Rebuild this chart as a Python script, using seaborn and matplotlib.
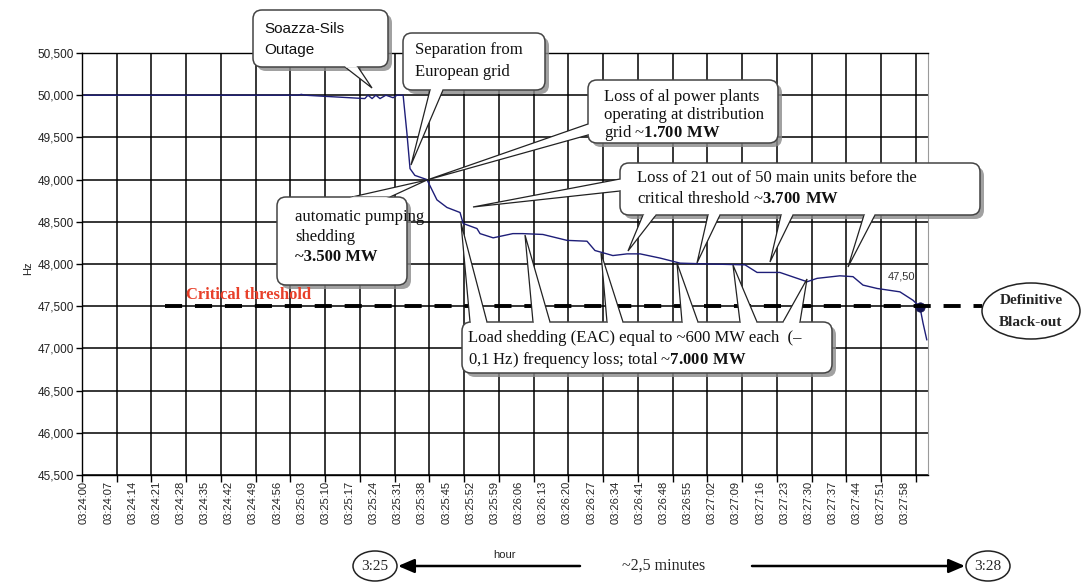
import numpy as np
import pandas as pd
import matplotlib
matplotlib.use("Agg")
import matplotlib.pyplot as plt
import seaborn as sns
from matplotlib.patches import FancyBboxPatch, Polygon, Ellipse

# ---------------- data ----------------
time_s = [0, 62, 63, 64, 81.4, 82.3, 83.5, 84.6, 85.8, 87.5, 89.6, 90.7,
          92.5, 93.6, 94.5, 95.9, 99.4, 102.3, 105.2, 109.0, 109.9, 113.9,
          114.8, 118.6, 124.3, 127.2, 133.0, 140.0, 145.8, 148.1, 153.3, 157.4,
          161.2, 167.0, 172.8, 181.4, 191.6, 195.1, 201.7, 209.6, 212.5, 219.1,
          222.9, 225.8, 229.9, 236.5, 240.3, 242.3, 243.2, 244.3]
freq_hz = [50.00, 50.00, 50.01, 50.00, 49.96, 50.00, 49.96, 50.00, 49.96, 50.00, 49.97, 50.00,
           50.00, 49.55, 49.13, 49.05, 49.00, 48.76, 48.67, 48.61, 48.48, 48.42,
           48.36, 48.31, 48.36, 48.36, 48.35, 48.28, 48.27, 48.16, 48.10, 48.12,
           48.12, 48.07, 48.01, 48.00, 47.99, 47.90, 47.90, 47.79, 47.83, 47.86,
           47.85, 47.75, 47.71, 47.67, 47.57, 47.49, 47.30, 47.10]

tick_seconds = list(range(0, 239, 7))
tick_labels = ["03:24:00", "03:24:07", "03:24:14", "03:24:21", "03:24:28", "03:24:35",
               "03:24:42", "03:24:49", "03:24:56", "03:25:03", "03:25:10", "03:25:17",
               "03:25:24", "03:25:31", "03:25:38", "03:25:45", "03:25:52", "03:25:59",
               "03:26:06", "03:26:13", "03:26:20", "03:26:27", "03:26:34", "03:26:41",
               "03:26:48", "03:26:55", "03:27:02", "03:27:09", "03:27:16", "03:27:23",
               "03:27:30", "03:27:37", "03:27:44", "03:27:51", "03:27:58"]
y_ticks = [45.5, 46.0, 46.5, 47.0, 47.5, 48.0, 48.5, 49.0, 49.5, 50.0, 50.5]
threshold_hz = 47.5
blackout_t = 242.3
blackout_hz = 47.49
blackout_label = "47,50"

# ---------------- style ----------------
sns.set_theme(style="ticks")
plt.rcParams["font.family"] = ["Liberation Sans", "DejaVu Sans"]
plt.rcParams["mathtext.fontset"] = "custom"
plt.rcParams["mathtext.rm"] = "Liberation Serif"
plt.rcParams["mathtext.bf"] = "Liberation Serif:bold"

W, H = 1082, 582
fig = plt.figure(figsize=(W / 100, H / 100), dpi=100)
fig.patch.set_facecolor("white")
ax = fig.add_axes([82 / W, 1 - 475 / H, 846 / W, 422 / H])

df = pd.DataFrame({"t": time_s, "f": freq_hz})
sns.lineplot(data=df, x="t", y="f", ax=ax, color="#1e1e78", lw=1.0, zorder=3)
sns.scatterplot(x=[blackout_t], y=[blackout_hz], ax=ax, color="#141450", s=45,
                edgecolor="#141450", zorder=4)

ax.set_xlim(-0.58, 244.64)
ax.set_ylim(45.5, 50.5)
ax.set_xticks(tick_seconds)
ax.set_xticklabels(tick_labels, rotation=90)
ax.set_xticks(np.linspace(-0.58, 241.1, 25), minor=True)
ax.set_yticks(y_ticks)
ax.set_yticklabels([f"{v:.3f}".replace(".", ",") for v in y_ticks])
ax.grid(which="major", axis="y", color="black", lw=1.1)
ax.grid(which="minor", axis="x", color="black", lw=1.1)
ax.grid(which="major", axis="x", visible=False)
ax.set_axisbelow(True)
ax.tick_params(axis="x", which="major", length=0, labelsize=8, pad=4,
               labelcolor="#222222", bottom=True)
ax.tick_params(axis="x", which="minor", length=5, width=1, color="black",
               direction="out", bottom=True)
ax.tick_params(axis="y", length=4, width=1, color="black", direction="out",
               labelsize=8.5, pad=2, labelcolor="#222222", left=True)
for s in ["left", "bottom", "top"]:
    ax.spines[s].set_color("black")
    ax.spines[s].set_linewidth(1.0)
ax.spines["top"].set_visible(True)
ax.spines["right"].set_visible(True)
ax.spines["right"].set_color("#9a9a9a")
ax.spines["right"].set_linewidth(0.8)

ax.set_ylabel("Hz", fontsize=8, color="#222222")
ax.yaxis.set_label_coords((33 - 82) / 846, (475 - 268) / 422)
ax.set_xlabel("hour", fontsize=8, color="#222222")
ax.xaxis.set_label_coords((505 - 82) / 846, -(550 - 475) / 422)

# threshold dashed line (extends past the plot to the ellipse)
ax.plot([(165 - 82) / 846, (982 - 82) / 846], [threshold_hz, threshold_hz],
        transform=ax.get_yaxis_transform(), clip_on=False, color="black",
        lw=2.8, dashes=(4.4, 3.3), zorder=5)
ax.annotate(blackout_label, xy=(blackout_t, blackout_hz), xytext=(-13, 22),
            textcoords="offset points", ha="center", va="center",
            fontsize=8, color="#333333")

# ---------------- overlay for callouts (pixel coordinates) ----------------
ov = fig.add_axes([0, 0, 1, 1])
ov.set_xlim(0, W)
ov.set_ylim(H, 0)
ov.axis("off")
ov.patch.set_alpha(0)
ov.set_zorder(10)

SERIF = ["Liberation Serif", "DejaVu Serif"]
FS = 12


def callout(box, pointers, rs=9):
    x0, y0, x1, y1 = box
    w, h = x1 - x0, y1 - y0
    ov.add_patch(FancyBboxPatch((x0 + 4, y0 + 4), w, h,
                                boxstyle=f"round,pad=0,rounding_size={rs}",
                                fc="#8a8a8a", ec="none", alpha=0.8, zorder=2))
    for b1, b2, tip in pointers:
        ov.add_patch(Polygon([b1, tip, b2], closed=True, fc="white", ec="#222222",
                             lw=0.9, zorder=3))
    ov.add_patch(FancyBboxPatch((x0, y0), w, h,
                                boxstyle=f"round,pad=0,rounding_size={rs}",
                                fc="white", ec="#444444", lw=1.1, zorder=4))
    for b1, b2, tip in pointers:
        mx, my = (b1[0] + b2[0]) / 2, (b1[1] + b2[1]) / 2
        dx, dy = mx - tip[0], my - tip[1]
        n = np.hypot(dx, dy)
        ux, uy = dx / n, dy / n
        bx, by = b2[0] - b1[0], b2[1] - b1[1]
        bn = np.hypot(bx, by)
        ex, ey = bx / bn * 0.8, by / bn * 0.8
        p1 = (b1[0] + ex, b1[1] + ey)
        p2 = (b2[0] - ex, b2[1] - ey)
        quad = [(p1[0] - 1.2 * ux, p1[1] - 1.2 * uy), (p2[0] - 1.2 * ux, p2[1] - 1.2 * uy),
                (p2[0] + 3 * ux, p2[1] + 3 * uy), (p1[0] + 3 * ux, p1[1] + 3 * uy)]
        ov.add_patch(Polygon(quad, closed=True, fc="white", ec="none", zorder=5))


def lines(x, ys, texts, size=FS, family=SERIF, weight="normal", color="#111111"):
    for y, t in zip(ys, texts):
        ov.text(x, y, t, fontsize=size, family=family, weight=weight, color=color,
                ha="left", va="center", zorder=6)


# Soazza-Sils outage
callout((253, 10, 388, 67), [((345, 67), (358, 67), (372, 88))])
lines(264, [29, 50], ["Soazza-Sils", "Outage"], size=11,
      family=["Liberation Sans", "DejaVu Sans"])

# Separation from European grid
callout((403, 33, 545, 90), [((430, 90), (443, 90), (411, 165))])
lines(415, [50, 72], ["Separation from", "European grid"])

# Loss of al power plants
callout((588, 80, 778, 143), [((588, 124), (588, 135), (427, 180))])
lines(604, [97, 115, 133], ["Loss of al power plants", "operating at distribution",
                            r"grid ~$\mathbf{1.700\ MW}$"])

# automatic pumping shedding
callout((277, 197, 407, 285), [((352, 197), (390, 197), (427, 180))])
lines(295, [217, 237], ["automatic pumping", "shedding"])
lines(295, [257], ["~3.500 MW"], weight="bold")

# Loss of 21 out of 50 main units
callout((620, 163, 980, 215), [((620, 179), (620, 191), (473, 207)),
                               ((643, 215), (656, 215), (628, 251)),
                               ((708, 215), (720, 215), (697, 263)),
                               ((781, 215), (793, 215), (770, 262)),
                               ((864, 215), (875, 215), (848, 267))])
lines(637, [178, 199], ["Loss of 21 out of 50 main units before the",
                        r"critical threshold ~$\mathbf{3.700\ MW}$"])

# Load shedding
callout((462, 322, 832, 373), [((470, 322), (487, 322), (461, 223)),
                               ((533, 322), (550, 322), (525, 235)),
                               ((607, 322), (623, 322), (601, 253)),
                               ((682, 322), (698, 322), (677, 263)),
                               ((740, 322), (757, 322), (733, 265)),
                               ((783, 322), (800, 322), (807, 279))])
lines(468, [338, 360], ["Load shedding (EAC) equal to ~600 MW each  (\u2013",
                        r"0,1 Hz) frequency loss; total ~$\mathbf{7.000\ MW}$"])

# Critical threshold label
ov.text(186, 295, "Critical threshold", fontsize=12, family=SERIF, weight="bold",
        color="#e8402a", ha="left", va="center", zorder=6)

# Definitive Black-out ellipse
ov.add_patch(Ellipse((1031, 311), 98, 56, fc="white", ec="#222222", lw=1.1, zorder=4))
ov.text(1031, 300, "Definitive", fontsize=11, family=SERIF, weight="bold",
        ha="center", va="center", zorder=6)
ov.text(1031, 322, "Black-out", fontsize=11, family=SERIF, weight="bold",
        ha="center", va="center", zorder=6)

# bottom time span annotation
for cx, lab in [(375, "3:25"), (988, "3:28")]:
    ov.add_patch(Ellipse((cx, 566), 44, 30, fc="white", ec="#222222", lw=1.1, zorder=4))
    ov.text(cx, 566, lab, fontsize=11, family=SERIF, ha="center", va="center", zorder=6)
ov.annotate("", xy=(398, 566), xytext=(580, 566),
            arrowprops=dict(arrowstyle="-|>,head_length=0.7,head_width=0.3",
                            color="black", lw=1.8, shrinkA=0, shrinkB=0,
                            mutation_scale=14))
ov.annotate("", xy=(965, 566), xytext=(752, 566),
            arrowprops=dict(arrowstyle="-|>,head_length=0.7,head_width=0.3",
                            color="black", lw=1.8, shrinkA=0, shrinkB=0,
                            mutation_scale=14))
ov.text(664, 566, "~2,5 minutes", fontsize=11.5, family=SERIF, ha="center",
        va="center", zorder=6)

fig.savefig("out.png", dpi=100, facecolor="white")
